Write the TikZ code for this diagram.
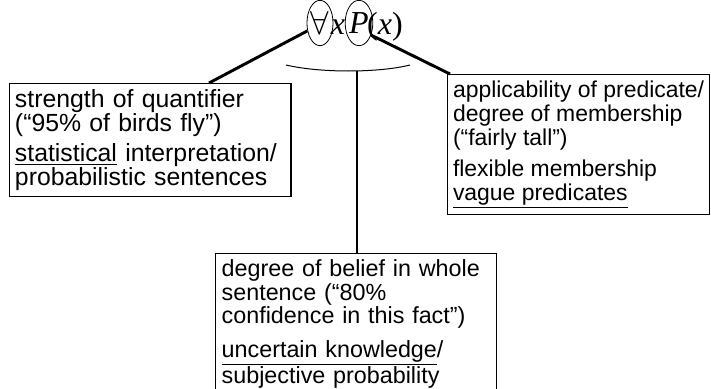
\documentclass[tikz,border=0pt]{standalone}
\usepackage{fontspec}
\setmainfont{Liberation Sans}
\newfontfamily\formfont{Liberation Serif}
\usetikzlibrary{shapes.geometric}
\hyphenpenalty=10000

\tikzset{every picture/.style={line width=0.75pt}}
\tikzset{
	note box/.style={draw, line width=1pt, anchor=north west, align=left,
		inner xsep=4.5pt, inner ysep=4.5pt, font=\fontsize{17.5}{17.6}\selectfont},
	quant ring/.style={draw, ellipse, inner sep=0pt, minimum width=18pt,
		minimum height=34pt, line width=0.6pt, font=\fontsize{24}{28}\selectfont},
	formula/.style={anchor=base, inner sep=0pt, font=\fontsize{24}{28}\selectfont\formfont},
	link/.style={line width=2.2pt}}

\begin{document}
\begin{tikzpicture}[x=0.75pt,y=0.75pt,yscale=-1,xscale=1]
	\useasboundingbox (0,0) rectangle (711,389);

	%Shape: Ellipse
	\node[quant ring] (forall) at (320,23) {$\forall$};
	%Shape: Ellipse
	\node[quant ring] (pred) at (359,23) {\formfont\itshape P};
	% Text Node
	\node[formula] (var) at (338,34) {\itshape x};
	% Text Node
	\node[formula] (arg) at (385,34) {(\textit{x})};

	% Text Node
	\node[note box, text width=203pt, inner xsep=4pt, font=\fontsize{18.6}{17.8}\selectfont] (strength) at (9,83)
		{strength of quantifier\\(“95\% of birds fly”)\\[5pt]\underline{statistical} interpretation/\\probabilistic sentences};
	% Text Node
	\node[note box, inner xsep=4pt, font=\fontsize{17.2}{17.9}\selectfont] (member) at (447,74)
		{applicability of predicate/\\degree of membership\\(“fairly tall”)\\[6pt]flexible membership\\\underline{vague predicates}};
	% Text Node
	\node[note box, text width=201.75pt, text depth=95pt] (belief) at (215,253)
		{degree of belief in whole\\sentence (“80\%\\confidence in this fact”)\\[8pt]\underline{uncertain knowledge}/\\subjective probability};

	%Curve Lines
	\draw (286,65) .. controls (320,73) and (378,73) .. (410,65) ;
	\coordinate (arcbot) at (357,71);
	\coordinate (ltop) at (209,83);
	\coordinate (rtop) at (450,74);

	%Straight Lines
	\draw[link] (forall.212) -- (ltop) ;
	%Straight Lines
	\draw[link] (pred.-45) -- (rtop) ;
	%Straight Lines
	\draw[line width=1.6pt] (arcbot) -- (arcbot |- belief.north) ;
\end{tikzpicture}
\end{document}
